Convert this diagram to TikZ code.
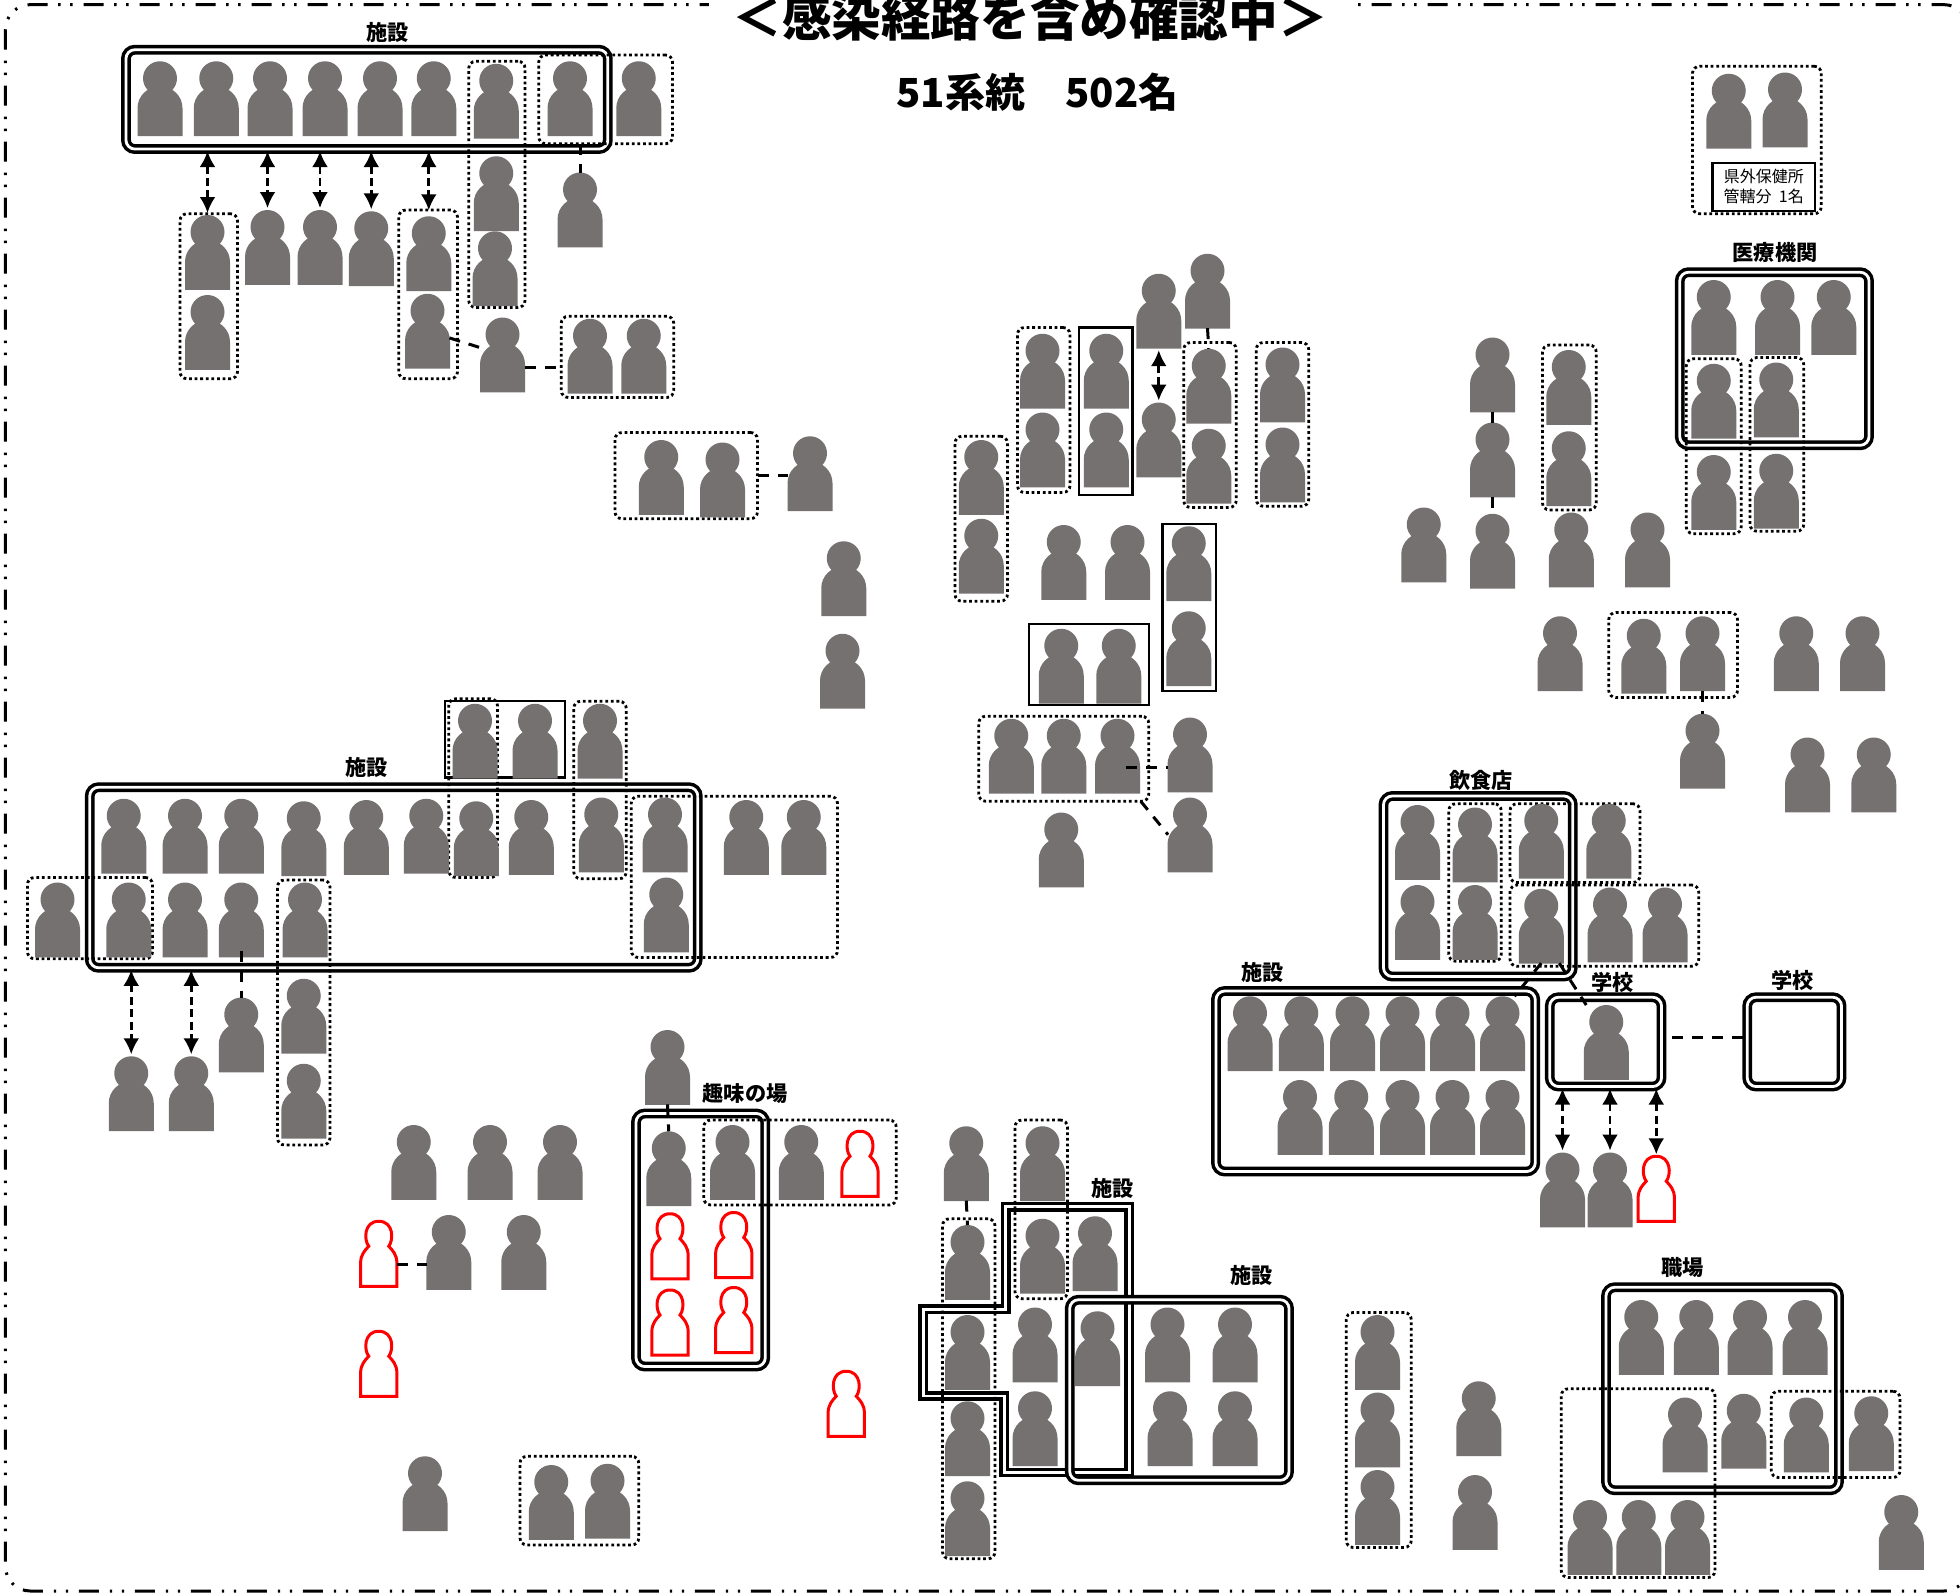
\documentclass[tikz,border=0pt]{standalone}
\usepackage{fontspec}
\setmainfont{Noto Sans CJK JP}
\usetikzlibrary{arrows.meta}
\definecolor{persongrey}{HTML}{767171}
\newcommand\wbox[6]{\node[#1, minimum width={(#5-#3)*0.625pt}, minimum height={(#6-#4)*0.625pt}] (#2) at ({(#3+#5)/2},{(#4+#6)/2}) {};}
\newcommand\dframe[5]{\node[doubleframe, minimum width={(#4-#2-7.5)*0.625pt}, minimum height={(#5-#3-7.5)*0.625pt}] (#1) at ({(#2+#4)/2},{(#3+#5)/2}) {};}
\newcommand\dotframe[5]{\wbox{dotbox}{#1}{#2}{#3}{#4}{#5}}
\newcommand\thinframe[5]{\wbox{thinbox}{#1}{#2}{#3}{#4}{#5}}
\newcommand\person[2]{\node[personbox] (p#1-#2) at (#1,#2) {}; \pic at (#1,#2) {personshape};}
\newcommand\redperson[2]{\node[redbox] (r#1-#2) at (#1,#2) {}; \pic at (#1,#2) {redshape};}
\tikzset{
  x=0.625pt, y=-0.625pt,
  personbox/.style={anchor=north, inner sep=0pt, outer sep=0pt, minimum width=22pt, minimum height=37.2pt},
  redbox/.style={anchor=north, inner sep=0pt, outer sep=0pt, minimum width=18pt, minimum height=32.5pt},
  personshape/.pic={
    \fill[persongrey] (0,13.6) circle[radius=13.6];
    \fill[persongrey] (-18,59.8) -- (-18,37.5) .. controls (-18,27.8) and (-9.9,20) .. (0,20) .. controls (9.9,20) and (18,27.8) .. (18,37.5) -- (18,59.8) -- cycle;
  },
  redshape/.pic={
    \draw[red, fill=white, line width=1.5pt] (-14.5,52) -- (-14.5,33) .. controls (-14.5,27) and (-11,23) .. (-8,20) .. controls (-12,15) and (-12,0) .. (0,0) .. controls (12,0) and (12,15) .. (8,20) .. controls (11,23) and (14.5,27) .. (14.5,33) -- (14.5,52) -- cycle;
  },
  doubleframe/.style={draw=black, line width=1.75pt, double=white, double distance=1.4pt, rounded corners=4.5pt, inner sep=0pt, outer sep=0pt},
  doublepath/.style={draw=black, line width=1.75pt, double=white, double distance=1.4pt},
  dotbox/.style={draw=black, line width=1.4pt, dash pattern=on 1.4pt off 1.4pt, rounded corners=3.5pt, inner sep=0pt, outer sep=0pt},
  thinbox/.style={draw=black, line width=1.1pt, inner sep=0pt, outer sep=0pt},
  linkline/.style={draw=black, line width=1.5pt, dash pattern=on 5.5pt off 4.5pt},
  linkarrow/.style={draw=black, line width=1.4pt, dash pattern=on 4pt off 2.2pt, {Latex[length=8pt,width=8pt]}-{Latex[length=8pt,width=8pt]}, shorten <=1pt, shorten >=1pt},
  label/.style={font=\fontsize{10.6}{12}\selectfont\bfseries, inner sep=0pt},
}
\begin{document}
\begin{tikzpicture}
\useasboundingbox (0,0) rectangle (1568,1273.6);
\fill[white] (0,0) rectangle (1568,1273.6);
% outer border
\draw[black, line width=1.5pt, rounded corners=12.5pt, dash pattern=on 10pt off 5.5pt on 1.2pt off 4.8pt on 1.2pt off 5.3pt] (4.3,3.7) rectangle (1575,1272.8);
\node[fill=white, inner sep=0pt, minimum width=320.6pt, minimum height=26pt, font=\fontsize{24.8}{28}\selectfont\bfseries] (title) at (824,14) {＜感染経路を含め確認中＞};
\node[inner sep=0pt, font=\fontsize{20}{24}\selectfont\bfseries] (count) at (830,73.6) {51系統　502名};

% double frames
\draw[doublepath] (804.6,965.3) coordinate (kframe) -- (903.4,965.3) -- (903.4,1178) -- (803.5,1178) -- (803.5,1116.8) -- (738.5,1116.8) -- (738.5,1047.5) -- (804.6,1047.5) -- cycle;
\dframe{fa}{97}{36}{490}{123}
\dframe{fb}{68}{626}{562}{778}
\dframe{fc}{1340}{214}{1499}{360}
\dframe{fd}{1103}{633}{1262}{785}
\dframe{fe}{969}{789}{1232}{941}
\dframe{ff}{1236}{794}{1333}{873}
\dframe{fg}{1394}{794}{1477}{873}
\dframe{fh}{505}{887}{616}{1097}
\dframe{fi}{1281}{1026}{1475}{1196}
\dframe{fj}{852}{1036}{1035}{1188}

% thin frames
\thinframe{ta}{863}{262}{906}{396}
\thinframe{tb}{930}{419}{973}{553}
\thinframe{tc}{823}{499}{919}{564}
\thinframe{td}{356}{561}{452}{622}

% dotted frames
\dotframe{d1}{375}{49}{420}{246}
\dotframe{d2}{431}{44}{538}{115}
\dotframe{d3}{144}{171}{190}{303}
\dotframe{d4}{319}{168}{366}{303}
\dotframe{d5}{449}{253}{539}{318}
\dotframe{d6}{492}{346}{606}{415}
\dotframe{d7}{764}{349}{806}{481}
\dotframe{d8}{814}{262}{856}{394}
\dotframe{d9}{947}{274}{989}{406}
\dotframe{d10}{1005}{274}{1047}{405}
\dotframe{d11}{783}{573}{919}{641}
\dotframe{d12}{1234}{276}{1277}{408}
\dotframe{d13}{1349}{287}{1393}{427}
\dotframe{d14}{1400}{286}{1443}{425}
\dotframe{d15}{1287}{490}{1390}{558}
\dotframe{d16}{1354}{53}{1457}{171}
\dotframe{d17}{359}{559}{398}{702}
\dotframe{d18}{459}{561}{501}{703}
\dotframe{d19}{505}{637}{670}{766}
\dotframe{d20}{22}{702}{122}{767}
\dotframe{d21}{222}{704}{264}{916}
\dotframe{d22}{563}{896}{717}{964}
\dotframe{d23}{812}{896}{854}{1039}
\dotframe{d24}{754}{975}{796}{1247}
\dotframe{d25}{416}{1165}{511}{1236}
\dotframe{d26}{1159}{643}{1201}{769}
\dotframe{d27}{1208}{643}{1312}{706}
\dotframe{d28}{1208}{708}{1359}{773}
\dotframe{d29}{1077}{1050}{1129}{1238}
\dotframe{d30}{1249}{1111}{1372}{1262}
\dotframe{d31}{1417}{1113}{1520}{1182}

% persons
\foreach \x/\y in {128/49,173/49,216/49,260/49,304/49,347/49,397/51,456/49,511/49,
  397/125,396/185,464/138,166/172,166/236,214/168,256/168,297/169,343/173,342/235,
  402/254,472/255,515/255,
  529/352,578/354,648/349,675/433,674/507,
  785/352,785/415,834/267,834/330,885/267,885/330,927/219,966/203,927/322,967/279,967/343,
  1026/278,1026/342,851/420,902/420,951/421,951/489,849/503,895/503,809/575,851/575,894/575,
  952/574,952/638,849/650,
  1194/270,1194/338,1194/411,1139/406,1255/280,1255/345,1257/410,1318/410,1248/493,1315/495,
  1362/493,1437/493,1490/493,1362/571,1446/590,1499/590,1383/59,1428/58,
  1371/224,1422/224,1467/224,1371/291,1421/290,1371/364,1421/363,
  380/563,428/563,480/563,99/639,148/639,193/639,243/641,293/640,341/639,381/641,425/640,
  481/638,532/638,597/640,643/640,533/702,46/706,103/706,148/706,193/706,244/706,243/783,
  243/851,193/798,105/845,153/845,
  534/824,535/905,586/900,641/900,331/900,392/900,448/900,359/972,419/972,340/1165,441/1172,486/1171,
  773/901,834/901,774/980,834/975,876/973,774/1052,828/1046,828/1113,878/1049,934/1046,988/1046,
  936/1113,988/1113,774/1121,774/1185,
  1102/1052,1102/1114,1102/1176,1183/1105,1180/1180,1521/1196,
  1313/1040,1357/1040,1400/1040,1444/1040,1348/1118,1395/1115,1445/1118,1497/1117,
  1272/1200,1311/1200,1350/1200,
  1134/644,1180/646,1233/643,1287/643,1134/708,1180/708,1233/711,1288/710,1332/710,
  1000/797,1041/797,1082/797,1122/797,1162/797,1202/797,1040/864,1081/864,1122/864,1162/864,1202/864,
  1285/804,1250/922,1288/922}
  {\person{\x}{\y}}
\foreach \x/\y in {688/905,536/971,587/970,536/1032,587/1030,303/977,303/1065,677/1097,1325/925}
  {\redperson{\x}{\y}}

% note box
\node[thinbox, fill=white, minimum width=51.25pt, minimum height=23.75pt, align=center, font=\fontsize{8}{10}\selectfont] (note) at (1411,149.5) {県外保健所\\管轄分\hspace{0.45em}1名};

% two-way arrows
\draw[linkarrow] (p166-172.north |- fa.south) -- (p166-172.north);
\draw[linkarrow] (p214-168.north |- fa.south) -- (p214-168.north);
\draw[linkarrow] (p256-168.north |- fa.south) -- (p256-168.north);
\draw[linkarrow] (p297-169.north |- fa.south) -- (p297-169.north);
\draw[linkarrow] (p343-173.north |- fa.south) -- ([yshift=2pt]p343-173.north);
\draw[linkarrow] (p105-845.north |- fb.south) -- (p105-845.north);
\draw[linkarrow] (p153-845.north |- fb.south) -- (p153-845.north);
\draw[linkarrow] (p927-219.south) -- (p927-322.north);
\draw[linkarrow] (p1250-922.north |- ff.south) -- (p1250-922.north);
\draw[linkarrow] (p1288-922.north |- ff.south) -- (p1288-922.north);
\draw[linkarrow] (r1325-925.north |- ff.south) -- (r1325-925.north);

% dashed links
\draw[linkline] (d2.south -| p464-138.north) -- (p464-138.north);
\draw[linkline] (p342-235) -- (p402-254);
\draw[linkline] ([yshift=-6.5pt]p402-254.east) -- ([yshift=-6.5pt]p402-254.east -| d5.west);
\draw[linkline] (d6.east) -- (d6.east -| p648-349.west);
\draw[linkline] ([yshift=3pt]p193-706.south) -- (p193-798.north);
\draw[linkline] (p534-824.south) -- (p535-905.north);
\draw[linkline] (p966-203.south) -- (p967-279.north);
\draw[linkline] (p1194-270.south) -- (p1194-338.north);
\draw[linkline] (p1194-338.south) -- (p1194-411.north);
\draw[linkline] (p1362-493.south) -- (p1362-571.north);
\draw[linkline] (p773-901.south) -- (p774-980.north);
\draw[linkline] ([yshift=-5.6pt]r303-977.east) -- ([yshift=-5.6pt]r303-977.east -| p359-972.west);
\draw[linkline] ([xshift=5pt,yshift=2pt]ff.east) -- ([yshift=2pt]fg.west);
\draw[linkline] ([yshift=-6.25pt,xshift=-7pt]p894-575.east |- p952-574.west) -- ([yshift=-6.25pt]p952-574.west);
\draw[linkline] ([xshift=-4pt]d11.south east) -- (p952-638.west);
\draw[linkline] (p1233-711.south) -- ([xshift=6pt]p1202-797.north);
\draw[linkline] ([xshift=9pt]p1233-711.south) -- ([xshift=-10pt]p1285-804.north);

% labels
\node[label] (l1) at (310,26) {施設};
\node[label] (l2) at (293,614) {施設};
\node[label] (l3) at (1420,202) {医療機関};
\node[label] (l4) at (1185,624) {飲食店};
\node[label] (l5) at (1010,778) {施設};
\node[label] (l6) at (1290,786) {学校};
\node[label] (l7) at (1434,784) {学校};
\node[label] (l8) at (596,875) {趣味の場};
\node[label] (l9) at (890,951) {施設};
\node[label] (l10) at (1001,1020) {施設};
\node[label] (l11) at (1346,1014) {職場};
\end{tikzpicture}
\end{document}
